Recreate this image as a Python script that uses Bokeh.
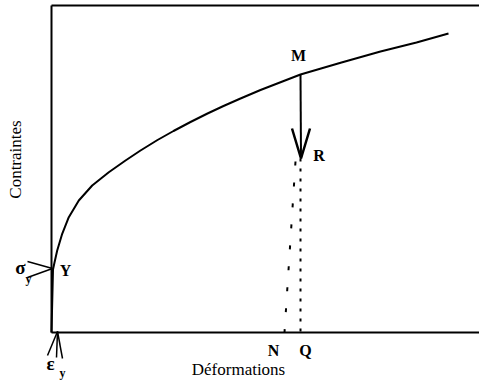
import math
from bokeh.plotting import figure
from bokeh.models import Label
from bokeh.embed import file_html
from bokeh.resources import INLINE

# ---- data (arbitrary units; origin at the corner of the axes) ----
strain = [0, 1.5, 3, 5.7, 10.7, 17.3, 27.3, 40.7, 57.3, 74, 89, 106, 122, 139, 156,
          172, 189, 209, 249, 290, 329, 365, 397]
stress = [0, 63, 70, 82, 98.7, 115.3, 132, 147, 160.3, 172, 182, 192.5, 201.5, 210.5, 219,
          226.5, 234, 242.5, 258, 270, 281, 290, 299]

yield_point = (1, 64)          # Y
m_point = (249, 258)           # M (on curve)
r_point = (249.5, 174)         # R (after unloading)
q_strain = 249                 # Q
n_start = (244, 171)           # start of elastic return line
n_strain = 233                 # N
eps_y = 6                      # epsilon_y on strain axis

axis_x_end = 428
axis_y_top = 327
view_x = (-51, 428)
view_y = (-54, 332)

FONT = "Liberation Serif"

p = figure(width=479, height=386, x_range=view_x, y_range=view_y,
           x_axis_type=None, y_axis_type=None, output_backend="svg",
           toolbar_location=None, min_border=0)
p.outline_line_color = None
p.background_fill_color = "white"
p.border_fill_color = "white"

# axes box (left, bottom, top)
p.line([0, 0], [0, axis_y_top], line_color="black", line_width=2)
p.line([0, axis_x_end], [0, 0], line_color="black", line_width=2.2)
p.line([0, axis_x_end], [axis_y_top, axis_y_top], line_color="black", line_width=2)

# stress-strain curve
p.line(strain, stress, line_color="black", line_width=2)

# unloading arrow M -> R
p.line([m_point[0], r_point[0]], [m_point[1], r_point[1]], line_color="black", line_width=2)
hw, hl = 9, 30
p.line([r_point[0] - hw, r_point[0], r_point[0] + hw],
       [r_point[1] + hl, r_point[1], r_point[1] + hl], line_color="black", line_width=2.5)

# dotted lines R -> Q and elastic return -> N
p.line([q_strain, q_strain], [r_point[1], 0], line_color="black", line_width=2, line_dash="3 7")
p.line([n_start[0], n_strain], [n_start[1], 0], line_color="black", line_width=2, line_dash="4 17")

def lab(x, y, text, size="16px", style="bold", angle=0.0):
    p.add_layout(Label(x=x, y=y, text=text, text_font=FONT, text_font_size=size,
                       text_font_style=style, text_align="center", text_baseline="middle",
                       text_color="black", angle=angle))

lab(m_point[0] - 2, m_point[1] + 19, "M")
lab(r_point[0] + 18, r_point[1] + 3, "R")
lab(n_strain - 11, -18, "N")
lab(q_strain + 5, -18, "Q")
lab(yield_point[0] + 13, yield_point[1] - 2, "Y")

# sigma_y with open arrow to Y
lab(yield_point[0] - 32, yield_point[1] + 1, "σ", size="19px")
lab(yield_point[0] - 24, yield_point[1] - 10, "y", size="12px")
for dy in (7, -9):
    p.line([yield_point[0] - 25, yield_point[0]], [yield_point[1] + dy, yield_point[1]],
           line_color="black", line_width=1.5)

# epsilon_y with arrow to strain axis
lab(eps_y - 7, -31, "ε", size="19px")
lab(eps_y + 5, -40, "y", size="12px")
for dx, dy in ((-10, -23), (-1, -25), (5, -26)):
    p.line([eps_y + dx, eps_y], [dy, 1], line_color="black", line_width=1.5)

# axis titles
lab(-36, 173, "Contraintes", size="17px", style="normal", angle=math.pi / 2)
lab(187, -37, "Déformations", size="17px", style="normal")

open("out.html", "w").write(file_html(p, INLINE))
